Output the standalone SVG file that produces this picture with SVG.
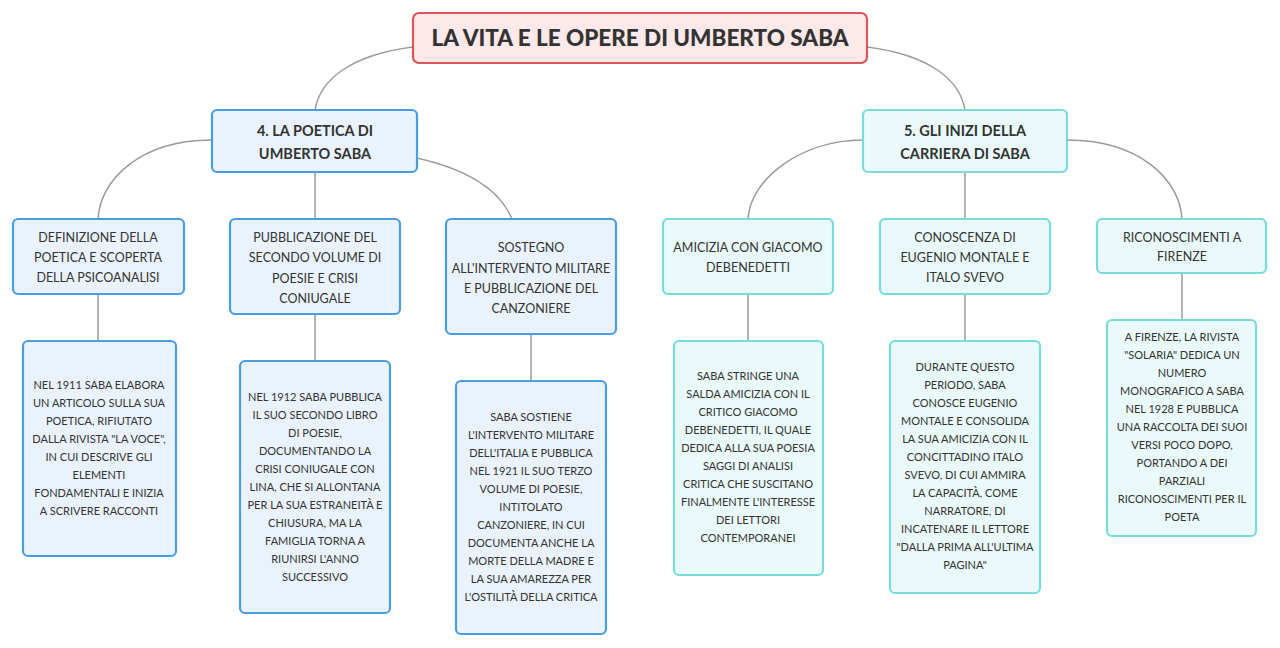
<svg xmlns="http://www.w3.org/2000/svg" width="1280" height="648" viewBox="0 0 1280 648">
<style>
text{font-family:Lato,"Open Sans","Liberation Sans",sans-serif;fill:#333;text-anchor:middle}
.t{font-size:22.5px;font-weight:900}
.h{font-size:14.5px;font-weight:bold}
.c{font-size:12.5px}
.d{font-size:11px}
.bl{fill:#eaf3fd;stroke:#4a9de0;stroke-width:2.2}
.tl{fill:#eafafa;stroke:#78dcdc;stroke-width:2.2}
.con path{fill:none;stroke:#9a9a9a;stroke-width:1.5}
</style>
<rect width="1280" height="648" fill="#fff"/>
<g class="con">
<path d="M413,47 C350,55 320,80 315,110"/>
<path d="M867,47 C930,55 960,80 965,110"/>
<path d="M212,140 C140,140 100,180 98,219"/>
<path d="M315,172 V219"/>
<path d="M417,158 C470,170 500,190 512,219"/>
<path d="M863,140 C800,140 750,180 748,219"/>
<path d="M965,172 V219"/>
<path d="M1067,140 C1140,140 1180,180 1182,219"/>
<path d="M98,294 V341"/><path d="M315,314 V361"/><path d="M531,334 V381"/>
<path d="M748,294 V341"/><path d="M965,294 V341"/><path d="M1182,273 V320"/>
</g>
<g id="title"><rect x="413" y="13" width="454" height="50" rx="6" fill="#fde9e9" stroke="#e05555" stroke-width="2.2"/><text class="t" x="640" y="46">LA VITA E LE OPERE DI UMBERTO SABA</text></g>
<g id="n4"><rect class="bl" x="212" y="110" width="205" height="62" rx="5"/><text class="h" x="315" y="136">4. LA POETICA DI</text><text class="h" x="315" y="159">UMBERTO SABA</text></g>
<g id="n5"><rect class="tl" x="863" y="110" width="204" height="62" rx="5"/><text class="h" x="965" y="136">5. GLI INIZI DELLA</text><text class="h" x="965" y="159">CARRIERA DI SABA</text></g>
<g id="c1" class="c"><rect class="bl" x="13" y="219" width="171" height="75" rx="5"/><text x="98" y="242">DEFINIZIONE DELLA</text><text x="98" y="262">POETICA E SCOPERTA</text><text x="98" y="282">DELLA PSICOANALISI</text></g>
<g id="c2" class="c"><rect class="bl" x="230" y="219" width="170" height="95" rx="5"/><text x="315" y="242">PUBBLICAZIONE DEL</text><text x="315" y="262">SECONDO VOLUME DI</text><text x="315" y="283">POESIE E CRISI</text><text x="315" y="303">CONIUGALE</text></g>
<g id="c3" class="c"><rect class="bl" x="446" y="219" width="170" height="115" rx="5"/><text x="531" y="252">SOSTEGNO</text><text x="531" y="273">ALL'INTERVENTO MILITARE</text><text x="531" y="293">E PUBBLICAZIONE DEL</text><text x="531" y="313">CANZONIERE</text></g>
<g id="c4" class="c"><rect class="tl" x="663" y="219" width="170" height="75" rx="5"/><text x="748" y="252">AMICIZIA CON GIACOMO</text><text x="748" y="272">DEBENEDETTI</text></g>
<g id="c5" class="c"><rect class="tl" x="880" y="219" width="170" height="75" rx="5"/><text x="965" y="242">CONOSCENZA DI</text><text x="965" y="262">EUGENIO MONTALE E</text><text x="965" y="282">ITALO SVEVO</text></g>
<g id="c6" class="c"><rect class="tl" x="1097" y="219" width="169" height="54" rx="5"/><text x="1182" y="242">RICONOSCIMENTI A</text><text x="1182" y="261">FIRENZE</text></g>
<g id="d1" class="d"><rect class="bl" x="23" y="341" width="153" height="215" rx="5"/>
<text x="99" y="389">NEL 1911 SABA ELABORA</text><text x="99" y="407">UN ARTICOLO SULLA SUA</text><text x="99" y="425">POETICA, RIFIUTATO</text><text x="99" y="443">DALLA RIVISTA "LA VOCE",</text><text x="99" y="461">IN CUI DESCRIVE GLI</text><text x="99" y="479">ELEMENTI</text><text x="99" y="497">FONDAMENTALI E INIZIA</text><text x="99" y="515">A SCRIVERE RACCONTI</text></g>
<g id="d2" class="d"><rect class="bl" x="240" y="361" width="150" height="252" rx="5"/>
<text x="315" y="401">NEL 1912 SABA PUBBLICA</text><text x="315" y="419">IL SUO SECONDO LIBRO</text><text x="315" y="437">DI POESIE,</text><text x="315" y="455">DOCUMENTANDO LA</text><text x="315" y="473">CRISI CONIUGALE CON</text><text x="315" y="491">LINA, CHE SI ALLONTANA</text><text x="315" y="509">PER LA SUA ESTRANEITÀ E</text><text x="315" y="527">CHIUSURA, MA LA</text><text x="315" y="545">FAMIGLIA TORNA A</text><text x="315" y="563">RIUNIRSI L'ANNO</text><text x="315" y="581">SUCCESSIVO</text></g>
<g id="d3" class="d"><rect class="bl" x="456" y="381" width="150" height="253" rx="5"/>
<text x="531" y="421">SABA SOSTIENE</text><text x="531" y="439">L'INTERVENTO MILITARE</text><text x="531" y="457">DELL'ITALIA E PUBBLICA</text><text x="531" y="475">NEL 1921 IL SUO TERZO</text><text x="531" y="493">VOLUME DI POESIE,</text><text x="531" y="511">INTITOLATO</text><text x="531" y="529">CANZONIERE, IN CUI</text><text x="531" y="547">DOCUMENTA ANCHE LA</text><text x="531" y="565">MORTE DELLA MADRE E</text><text x="531" y="583">LA SUA AMAREZZA PER</text><text x="531" y="601">L'OSTILITÀ DELLA CRITICA</text></g>
<g id="d4" class="d"><rect class="tl" x="674" y="341" width="149" height="234" rx="5"/>
<text x="748" y="380">SABA STRINGE UNA</text><text x="748" y="398">SALDA AMICIZIA CON IL</text><text x="748" y="416">CRITICO GIACOMO</text><text x="748" y="434">DEBENEDETTI, IL QUALE</text><text x="748" y="452">DEDICA ALLA SUA POESIA</text><text x="748" y="470">SAGGI DI ANALISI</text><text x="748" y="488">CRITICA CHE SUSCITANO</text><text x="748" y="506">FINALMENTE L'INTERESSE</text><text x="748" y="524">DEI LETTORI</text><text x="748" y="542">CONTEMPORANEI</text></g>
<g id="d5" class="d"><rect class="tl" x="890" y="341" width="150" height="252" rx="5"/>
<text x="965" y="371">DURANTE QUESTO</text><text x="965" y="389">PERIODO, SABA</text><text x="965" y="407">CONOSCE EUGENIO</text><text x="965" y="425">MONTALE E CONSOLIDA</text><text x="965" y="443">LA SUA AMICIZIA CON IL</text><text x="965" y="461">CONCITTADINO ITALO</text><text x="965" y="479">SVEVO, DI CUI AMMIRA</text><text x="965" y="497">LA CAPACITÀ, COME</text><text x="965" y="515">NARRATORE, DI</text><text x="965" y="533">INCATENARE IL LETTORE</text><text x="965" y="551">"DALLA PRIMA ALL'ULTIMA</text><text x="965" y="569">PAGINA"</text></g>
<g id="d6" class="d"><rect class="tl" x="1107" y="320" width="149" height="216" rx="5"/>
<text x="1182" y="341">A FIRENZE, LA RIVISTA</text><text x="1182" y="359">"SOLARIA" DEDICA UN</text><text x="1182" y="377">NUMERO</text><text x="1182" y="395">MONOGRAFICO A SABA</text><text x="1182" y="413">NEL 1928 E PUBBLICA</text><text x="1182" y="431">UNA RACCOLTA DEI SUOI</text><text x="1182" y="449">VERSI POCO DOPO,</text><text x="1182" y="467">PORTANDO A DEI</text><text x="1182" y="485">PARZIALI</text><text x="1182" y="503">RICONOSCIMENTI PER IL</text><text x="1182" y="521">POETA</text></g>
</svg>
